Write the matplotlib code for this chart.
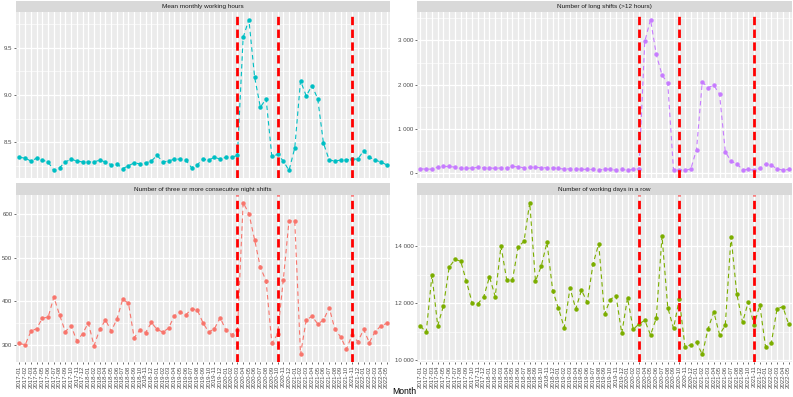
import matplotlib
matplotlib.use("Agg")
import matplotlib.pyplot as plt
from matplotlib.ticker import FuncFormatter, FixedLocator
import numpy as np

plt.rcParams['font.family'] = ['Liberation Sans', 'DejaVu Sans']

# --- data ---
months = [f"{y}-{m:02d}" for y in range(2017, 2023) for m in range(1, 13)][:65]

mean_hours = [8.34, 8.33, 8.30, 8.33, 8.31, 8.29, 8.20, 8.23, 8.29, 8.32,
              8.30, 8.29, 8.29, 8.29, 8.31, 8.29, 8.26, 8.27, 8.22, 8.25,
              8.28, 8.27, 8.28, 8.30, 8.36, 8.29, 8.30, 8.32, 8.32, 8.31,
              8.23, 8.26, 8.32, 8.31, 8.34, 8.32, 8.34, 8.34, 8.36, 9.61,
              9.80, 9.19, 8.87, 8.96, 8.35, 8.37, 8.30, 8.20, 8.44, 9.15,
              8.99, 9.10, 8.96, 8.49, 8.31, 8.30, 8.31, 8.31, 8.32, 8.32,
              8.41, 8.34, 8.31, 8.29, 8.26]

long_shifts = [90, 83, 83, 128, 143, 143, 128, 98, 98, 113,
               120, 113, 113, 98, 113, 105, 143, 135, 113, 120,
               128, 113, 113, 113, 98, 83, 90, 83, 83, 75,
               75, 53, 90, 75, 60, 75, 60, 75, 90, 2977,
               3474, 2684, 2218, 2030, 53, 68, 60, 83, 526, 2060,
               1932, 1985, 1782, 481, 256, 210, 68, 75, 60, 98,
               203, 173, 90, 60, 75]

night_shifts = [304, 301, 332, 338, 362, 364, 410, 369, 331, 345,
                310, 326, 351, 299, 336, 358, 332, 360, 405, 396,
                317, 335, 329, 352, 336, 330, 339, 367, 376, 369,
                383, 381, 351, 330, 338, 363, 334, 324, 334, 626,
                601, 541, 478, 447, 305, 325, 450, 585, 583, 279,
                358, 366, 349, 357, 386, 336, 319, 291, 324, 308,
                336, 306, 331, 344, 350]

days_in_row = [11196, 10974, 12979, 11208, 11900, 13261, 13531, 13472, 12757, 11994,
               11982, 12217, 12921, 12229, 14000, 12815, 12815, 13977, 14164, 15525,
               12768, 13296, 14129, 12428, 11818, 11138, 12534, 11795, 12452, 12029,
               13367, 14082, 11607, 12123, 12264, 10938, 12182, 11079, 11267, 11396,
               10880, 11466, 14352, 11842, 11114, 12135, 10457, 10540, 10622, 10199,
               11091, 11689, 10892, 11220, 14329, 12323, 11325, 12041, 11232, 11935,
               10469, 10598, 11795, 11877, 11267]

event_months = ["2020-03", "2020-10", "2021-11"]

titles = ["Mean monthly working hours", "Number of long shifts (>12 hours)",
          "Number of three or more consecutive night shifts", "Number of working days in a row"]
series = [mean_hours, long_shifts, night_shifts, days_in_row]
colors = ["#00BFC4", "#C77CFF", "#F8766D", "#7CAE00"]
yticks = [[8.5, 9.0, 9.5], [0, 1000, 2000, 3000], [300, 400, 500, 600], [10000, 12000, 14000]]

W, H = 793, 397
fig = plt.figure(figsize=(W / 100, H / 100), dpi=100)

cols = [(16, 390), (417, 792)]
rows = [(1, 12, 178), (183, 195, 362)]

def fmt_space(v, pos):
    return f"{int(round(v)):,}".replace(",", " ")

def fmt_dec(v, pos):
    return f"{v:.1f}"

x = np.arange(len(months))
for i in range(4):
    r, c = divmod(i, 2)
    x0, x1 = cols[c]
    s0, p0, p1 = rows[r]
    ax = fig.add_axes([x0 / W, (H - p1) / H, (x1 - x0) / W, (p1 - p0) / H])
    sax = fig.add_axes([x0 / W, (H - p0) / H, (x1 - x0) / W, (p0 - s0) / H])
    sax.set_facecolor("#D9D9D9")
    sax.set_xticks([]); sax.set_yticks([])
    for sp in sax.spines.values():
        sp.set_visible(False)
    sax.text(0.5, 0.5, titles[i], ha="center", va="center", fontsize=4.6, color="#1A1A1A",
             transform=sax.transAxes)

    ax.set_facecolor("#EBEBEB")
    for sp in ax.spines.values():
        sp.set_visible(False)
    vals = np.array(series[i], dtype=float)
    lo, hi = vals.min(), vals.max()
    pad = (hi - lo) * 0.05
    ax.set_ylim(lo - pad, hi + pad)
    ax.set_xlim(-0.6, len(months) - 1 + 0.6)

    yt = yticks[i]
    step = yt[1] - yt[0]
    ax.yaxis.set_major_locator(FixedLocator(yt))
    minors = [yt[0] - step / 2] + [v + step / 2 for v in yt]
    ax.yaxis.set_minor_locator(FixedLocator(minors))
    ax.yaxis.set_major_formatter(FuncFormatter(fmt_dec if i == 0 else fmt_space))
    ax.grid(True, which="major", axis="both", color="white", linewidth=0.9)
    ax.grid(True, which="minor", axis="y", color="white", linewidth=0.45)
    ax.set_axisbelow(True)
    ax.set_xticks(x)
    ax.tick_params(axis="y", which="major", length=1.6, width=0.5, color="#333333",
                   labelsize=4.4, labelcolor="#4D4D4D", pad=1)
    ax.tick_params(axis="y", which="minor", length=0)
    if r == 1:
        ax.set_xticklabels(months, rotation=90, fontsize=4.4, color="#4D4D4D")
        ax.tick_params(axis="x", length=1.6, width=0.5, color="#333333", pad=1)
    else:
        ax.tick_params(axis="x", length=0, labelbottom=False)

    ax.plot(x, vals, linestyle=(0, (4, 3)), color=colors[i], linewidth=0.8,
            marker="o", markersize=3.2, markeredgewidth=0, zorder=3)
    for em in event_months:
        ax.axvline(months.index(em), color="red", linewidth=2.0,
                   linestyle=(0, (3, 1.6)), zorder=4)

fig.text(404 / W, 1 - 391 / H, "Month", ha="center", va="center", fontsize=6.2, color="black")

fig.savefig("out.png", dpi=100)
